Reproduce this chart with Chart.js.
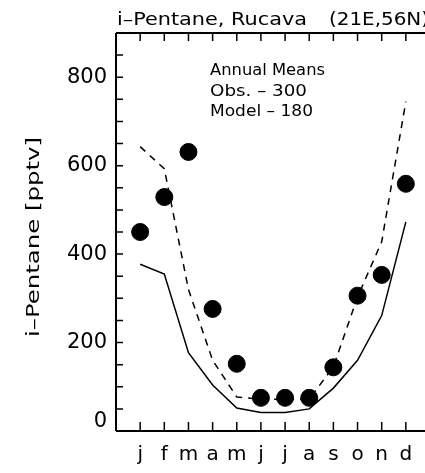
<!DOCTYPE html>
<html>
<head>
<meta charset="utf-8">
<script src="https://cdn.jsdelivr.net/npm/chart.js@4/dist/chart.umd.min.js"></script>
<style>
  html, body { margin: 0; padding: 0; background: #fff; overflow: hidden; }
  canvas { display: block; }
</style>
</head>
<body>
<canvas id="c" width="442" height="473"></canvas>
<script>
// months along the x axis (1..12)
const monthLabels = ['j', 'f', 'm', 'a', 'm', 'j', 'j', 'a', 's', 'o', 'n', 'd'];
const months = [1, 2, 3, 4, 5, 6, 7, 8, 9, 10, 11, 12];

// observed monthly means (dots)
const obsValues = [450, 529, 631, 276, 152, 75, 75, 75, 144, 306, 353, 559];
// model runs
const modelSolid = [377, 355, 177, 104, 52, 42, 42, 50, 97, 160, 261, 473];
const modelDashed = [643, 593, 320, 160, 77, 72, 72, 72, 145, 303, 428, 745];

const yTickLabels = [200, 400, 600, 800];
const titleLeft = 'i\u2013Pentane, Rucava';
const titleRight = '(21E,56N)';
const yTitle = 'i\u2013Pentane [pptv]';
const noteLines = ['Annual Means', 'Obs. \u2013 300', 'Model \u2013 180'];
const noteWidths = [115, 97, 103];

const toPts = vals => months.map((m, i) => ({ x: m, y: vals[i] }));

const FONT = '"DejaVu Sans", sans-serif';

// draw text stretched horizontally so that it spans `w` pixels
function wideText(ctx, s, x, y, w) {
  const m = ctx.measureText(s).width;
  ctx.save();
  ctx.translate(x, y);
  ctx.scale(w / m, 1);
  ctx.fillText(s, 0, 0);
  ctx.restore();
}

const framePlugin = {
  id: 'frame',
  afterDraw(chart) {
    const ctx = chart.ctx;
    const a = chart.chartArea;
    const xs = chart.scales.x, ys = chart.scales.y;
    ctx.save();
    ctx.strokeStyle = '#000';
    ctx.lineWidth = 2;
    ctx.beginPath();
    ctx.moveTo(a.left, a.top); ctx.lineTo(a.right, a.top);
    ctx.moveTo(a.left, a.top); ctx.lineTo(a.left, a.bottom);
    ctx.moveTo(a.left, a.bottom); ctx.lineTo(a.right, a.bottom);
    ctx.moveTo(a.right, a.top); ctx.lineTo(a.right, a.bottom);
    ctx.stroke();

    // inward ticks
    ctx.lineWidth = 1.5;
    ctx.beginPath();
    months.forEach(m => {
      const px = xs.getPixelForValue(m);
      ctx.moveTo(px, a.bottom); ctx.lineTo(px, a.bottom - 9);
      ctx.moveTo(px, a.top); ctx.lineTo(px, a.top + 8);
    });
    ys.ticks.forEach(t => {
      const py = ys.getPixelForValue(t.value);
      ctx.moveTo(a.left, py); ctx.lineTo(a.left + 7, py);
    });
    ctx.stroke();

    ctx.fillStyle = '#000';
    ctx.textAlign = 'left';
    ctx.textBaseline = 'alphabetic';

    // zero label sits a little above the axis line
    ctx.font = '21px ' + FONT;
    ctx.textAlign = 'right';
    ctx.textBaseline = 'middle';
    ctx.fillText('0', a.left - 9, ys.getPixelForValue(0) - 9);
    ctx.textAlign = 'left';
    ctx.textBaseline = 'alphabetic';

    // title
    ctx.font = '17px ' + FONT;
    wideText(ctx, titleLeft, 117, 25, 190);
    wideText(ctx, titleRight, 329, 25, 100);

    // annual means note
    ctx.font = '16px ' + FONT;
    noteLines.forEach((s, i) => wideText(ctx, s, 210, 75 + i * 20.5, noteWidths[i]));

    // y axis title
    ctx.translate(33, 237);
    ctx.rotate(-Math.PI / 2);
    ctx.font = '18px ' + FONT;
    wideText(ctx, yTitle, -100, 6, 200);
    ctx.restore();
  }
};

new Chart(document.getElementById('c'), {
  type: 'scatter',
  data: {
    datasets: [
      {
        label: 'Obs.',
        data: toPts(obsValues),
        backgroundColor: '#000',
        borderColor: '#000',
        pointRadius: 8.5,
        pointHoverRadius: 8.5,
        order: 0
      },
      {
        label: 'Model',
        type: 'line',
        data: toPts(modelSolid),
        borderColor: '#000',
        borderWidth: 1.5,
        pointRadius: 0,
        fill: false,
        tension: 0,
        order: 1
      },
      {
        label: 'Model (dashed)',
        type: 'line',
        data: toPts(modelDashed),
        borderColor: '#000',
        borderWidth: 1.5,
        borderDash: [7, 6],
        pointRadius: 0,
        fill: false,
        tension: 0,
        order: 2
      }
    ]
  },
  options: {
    responsive: false,
    animation: false,
    events: [],
    layout: { padding: { top: 33, right: 0, left: 0, bottom: 0 } },
    plugins: { legend: { display: false }, tooltip: { enabled: false }, title: { display: false } },
    scales: {
      x: {
        type: 'linear',
        min: 0,
        max: 13,
        grid: { display: false, drawTicks: false },
        border: { display: false },
        afterFit: s => { s.height = 42; },
        ticks: {
          stepSize: 1,
          autoSkip: false,
          maxRotation: 0,
          padding: 12,
          color: '#000',
          font: { family: FONT, size: 20 },
          callback: v => (v >= 1 && v <= 12 ? monthLabels[v - 1] : '')
        }
      },
      y: {
        min: 0,
        max: 900,
        grid: { display: false, drawTicks: false },
        border: { display: false },
        afterFit: s => { s.width = 116; },
        ticks: {
          stepSize: 50,
          autoSkip: false,
          padding: 9,
          color: '#000',
          font: { family: FONT, size: 21 },
          callback: v => (yTickLabels.includes(v) ? String(v) : '')
        }
      }
    }
  },
  plugins: [framePlugin]
});
</script>
</body>
</html>
